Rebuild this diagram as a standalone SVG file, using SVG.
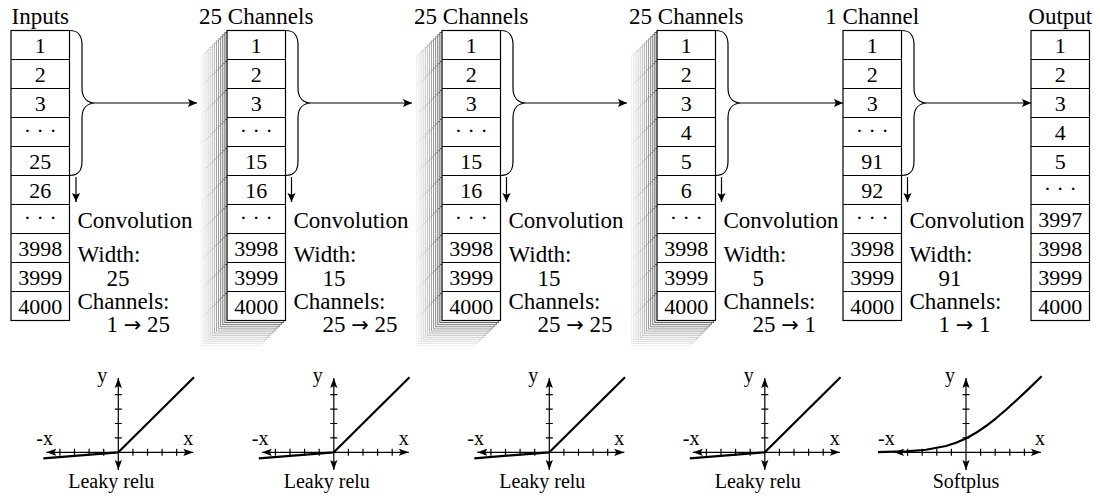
<svg xmlns="http://www.w3.org/2000/svg" width="1100" height="499" viewBox="0 0 1100 499" font-family="'Liberation Serif', 'DejaVu Serif', serif">
<style>
text{font-family:'Liberation Serif','DejaVu Serif',serif;fill:#000}
.h{font-size:23px;text-anchor:middle}
.n{font-size:22px;text-anchor:middle}
.l{font-size:23px}
.ar{font-family:'DejaVu Sans',sans-serif;font-size:21px}
.g{font-size:20px}
.gc{font-size:20px;text-anchor:middle}
.ln{fill:none;stroke:#000;stroke-width:1.2}
.ax{fill:none;stroke:#000;stroke-width:1.2}
.fn{fill:none;stroke:#000;stroke-width:2.2;stroke-linejoin:round}
</style>
<defs>
<marker id="arr" viewBox="0 0 10 10" refX="10" refY="5" markerWidth="9" markerHeight="9" markerUnits="userSpaceOnUse" orient="auto-start-reverse">
<path d="M0,0.5 L10,5 L0,9.5 L2,5 Z" fill="#000"/>
</marker>
<marker id="axa" viewBox="0 0 10 10" refX="10" refY="5" markerWidth="10" markerHeight="8" markerUnits="userSpaceOnUse" orient="auto-start-reverse" preserveAspectRatio="none">
<path d="M0,0.5 L10,5 L0,9.5 L2,5 Z" fill="#000"/>
</marker>
<g id="grid">
<rect x="0" y="0" width="58.5" height="290" fill="#fff"/>
<path d="M0,29h58.5M0,58h58.5M0,87h58.5M0,116h58.5M0,145h58.5M0,174h58.5M0,203h58.5M0,232h58.5M0,261h58.5" fill="none"/>
</g>
<g id="stack" stroke-width="0.9">
<use href="#grid" x="-25.2" y="25.2" stroke="#ececec"/>
<use href="#grid" x="-23.1" y="23.1" stroke="#e2e2e2"/>
<use href="#grid" x="-21" y="21" stroke="#d8d8d8"/>
<use href="#grid" x="-18.9" y="18.9" stroke="#cdcdcd"/>
<use href="#grid" x="-16.8" y="16.8" stroke="#c2c2c2"/>
<use href="#grid" x="-14.7" y="14.7" stroke="#b6b6b6"/>
<use href="#grid" x="-12.6" y="12.6" stroke="#aaaaaa"/>
<use href="#grid" x="-10.5" y="10.5" stroke="#9c9c9c"/>
<use href="#grid" x="-8.4" y="8.4" stroke="#8c8c8c"/>
<use href="#grid" x="-6.3" y="6.3" stroke="#7a7a7a"/>
<use href="#grid" x="-4.2" y="4.2" stroke="#666666"/>
<use href="#grid" x="-2.1" y="2.1" stroke="#4a4a4a"/>
</g>
<g id="axes">
<path class="ax" d="M-72,0 L75,0" marker-start="url(#axa)" marker-end="url(#axa)"/>
<path class="ax" d="M0,17.7 L0,-74.3" marker-start="url(#axa)" marker-end="url(#axa)"/>
<path class="ax" d="M-58.4,-3.5v7M-43.8,-3.5v7M-29.2,-3.5v7M-14.6,-3.5v7M14.6,-3.5v7M29.2,-3.5v7M43.8,-3.5v7M58.4,-3.5v7M-3.5,-14.4h7M-3.5,-28.8h7M-3.5,-43.2h7M-3.5,-57.6h7"/>
</g>
</defs>

<g id="inputs">
<text class="h" x="40.25" y="23.5">Inputs</text>
<use href="#grid" x="11" y="30.5" stroke="#000" stroke-width="1.2"/>
<text class="n" x="40.25" y="53">1</text>
<text class="n" x="40.25" y="82">2</text>
<text class="n" x="40.25" y="111">3</text>
<text class="n" x="40.25" y="138">· · ·</text>
<text class="n" x="40.25" y="169">25</text>
<text class="n" x="40.25" y="198">26</text>
<text class="n" x="40.25" y="225">· · ·</text>
<text class="n" x="40.25" y="256">3998</text>
<text class="n" x="40.25" y="285">3999</text>
<text class="n" x="40.25" y="314">4000</text>
</g>

<g id="layer1">
<text class="h" x="256.25" y="23.5">25 Channels</text>
<use href="#stack" x="227" y="30.5"/>
<use href="#grid" x="227" y="30.5" stroke="#000" stroke-width="1.2"/>
<text class="n" x="256.25" y="53">1</text>
<text class="n" x="256.25" y="82">2</text>
<text class="n" x="256.25" y="111">3</text>
<text class="n" x="256.25" y="138">· · ·</text>
<text class="n" x="256.25" y="169">15</text>
<text class="n" x="256.25" y="198">16</text>
<text class="n" x="256.25" y="225">· · ·</text>
<text class="n" x="256.25" y="256">3998</text>
<text class="n" x="256.25" y="285">3999</text>
<text class="n" x="256.25" y="314">4000</text>
</g>

<g id="layer2">
<text class="h" x="471.25" y="23.5">25 Channels</text>
<use href="#stack" x="442" y="30.5"/>
<use href="#grid" x="442" y="30.5" stroke="#000" stroke-width="1.2"/>
<text class="n" x="471.25" y="53">1</text>
<text class="n" x="471.25" y="82">2</text>
<text class="n" x="471.25" y="111">3</text>
<text class="n" x="471.25" y="138">· · ·</text>
<text class="n" x="471.25" y="169">15</text>
<text class="n" x="471.25" y="198">16</text>
<text class="n" x="471.25" y="225">· · ·</text>
<text class="n" x="471.25" y="256">3998</text>
<text class="n" x="471.25" y="285">3999</text>
<text class="n" x="471.25" y="314">4000</text>
</g>

<g id="layer3">
<text class="h" x="686.25" y="23.5">25 Channels</text>
<use href="#stack" x="657" y="30.5"/>
<use href="#grid" x="657" y="30.5" stroke="#000" stroke-width="1.2"/>
<text class="n" x="686.25" y="53">1</text>
<text class="n" x="686.25" y="82">2</text>
<text class="n" x="686.25" y="111">3</text>
<text class="n" x="686.25" y="140">4</text>
<text class="n" x="686.25" y="169">5</text>
<text class="n" x="686.25" y="198">6</text>
<text class="n" x="686.25" y="225">· · ·</text>
<text class="n" x="686.25" y="256">3998</text>
<text class="n" x="686.25" y="285">3999</text>
<text class="n" x="686.25" y="314">4000</text>
</g>

<g id="layer4">
<text class="h" x="872.25" y="23.5">1 Channel</text>
<use href="#grid" x="843" y="30.5" stroke="#000" stroke-width="1.2"/>
<text class="n" x="872.25" y="53">1</text>
<text class="n" x="872.25" y="82">2</text>
<text class="n" x="872.25" y="111">3</text>
<text class="n" x="872.25" y="138">· · ·</text>
<text class="n" x="872.25" y="169">91</text>
<text class="n" x="872.25" y="198">92</text>
<text class="n" x="872.25" y="225">· · ·</text>
<text class="n" x="872.25" y="256">3998</text>
<text class="n" x="872.25" y="285">3999</text>
<text class="n" x="872.25" y="314">4000</text>
</g>

<g id="output">
<text class="h" x="1060.25" y="23.5">Output</text>
<use href="#grid" x="1031" y="30.5" stroke="#000" stroke-width="1.2"/>
<text class="n" x="1060.25" y="53">1</text>
<text class="n" x="1060.25" y="82">2</text>
<text class="n" x="1060.25" y="111">3</text>
<text class="n" x="1060.25" y="140">4</text>
<text class="n" x="1060.25" y="169">5</text>
<text class="n" x="1060.25" y="196">· · ·</text>
<text class="n" x="1060.25" y="227">3997</text>
<text class="n" x="1060.25" y="256">3998</text>
<text class="n" x="1060.25" y="285">3999</text>
<text class="n" x="1060.25" y="314">4000</text>
</g>

<g id="conv1">
<text class="l" x="77.5" y="227.5">Convolution</text>
<text class="l" x="77.5" y="262">Width:</text>
<text class="l" x="106.5" y="285.5">25</text>
<text class="l" x="77.5" y="308.5">Channels:</text>
<text class="l" x="106.5" y="332">1 <tspan class="ar">→</tspan> 25</text>
</g>
<g id="conv2">
<text class="l" x="293.5" y="227.5">Convolution</text>
<text class="l" x="293.5" y="262">Width:</text>
<text class="l" x="322.5" y="285.5">15</text>
<text class="l" x="293.5" y="308.5">Channels:</text>
<text class="l" x="322.5" y="332">25 <tspan class="ar">→</tspan> 25</text>
</g>
<g id="conv3">
<text class="l" x="508.5" y="227.5">Convolution</text>
<text class="l" x="508.5" y="262">Width:</text>
<text class="l" x="537.5" y="285.5">15</text>
<text class="l" x="508.5" y="308.5">Channels:</text>
<text class="l" x="537.5" y="332">25 <tspan class="ar">→</tspan> 25</text>
</g>
<g id="conv4">
<text class="l" x="723.5" y="227.5">Convolution</text>
<text class="l" x="723.5" y="262">Width:</text>
<text class="l" x="752.5" y="285.5">5</text>
<text class="l" x="723.5" y="308.5">Channels:</text>
<text class="l" x="752.5" y="332">25 <tspan class="ar">→</tspan> 1</text>
</g>
<g id="conv5">
<text class="l" x="909.5" y="227.5">Convolution</text>
<text class="l" x="909.5" y="262">Width:</text>
<text class="l" x="938.5" y="285.5">91</text>
<text class="l" x="909.5" y="308.5">Channels:</text>
<text class="l" x="938.5" y="332">1 <tspan class="ar">→</tspan> 1</text>
</g>

<g id="connectors">
<path class="ln" d="M69.5,30.5 C78.5,30.5 82,35 82,45 L82,88 C82,98 87.5,103 95.5,103 C87.5,103 82,108 82,118 L82,161 C82,171 78.5,175.5 69.5,175.5"/>
<path class="ln" d="M285.5,30.5 C294.5,30.5 298,35 298,45 L298,88 C298,98 303.5,103 311.5,103 C303.5,103 298,108 298,118 L298,161 C298,171 294.5,175.5 285.5,175.5"/>
<path class="ln" d="M500.5,30.5 C509.5,30.5 513,35 513,45 L513,88 C513,98 518.5,103 526.5,103 C518.5,103 513,108 513,118 L513,161 C513,171 509.5,175.5 500.5,175.5"/>
<path class="ln" d="M715.5,30.5 C724.5,30.5 728,35 728,45 L728,88 C728,98 733.5,103 741.5,103 C733.5,103 728,108 728,118 L728,161 C728,171 724.5,175.5 715.5,175.5"/>
<path class="ln" d="M901.5,30.5 C910.5,30.5 914,35 914,45 L914,88 C914,98 919.5,103 927.5,103 C919.5,103 914,108 914,118 L914,161 C914,171 910.5,175.5 901.5,175.5"/>
<path class="ln" d="M95.5,103 L197,103" marker-end="url(#arr)"/>
<path class="ln" d="M311.5,103 L412,103" marker-end="url(#arr)"/>
<path class="ln" d="M526.5,103 L627,103" marker-end="url(#arr)"/>
<path class="ln" d="M741.5,103 L843,103" marker-end="url(#arr)"/>
<path class="ln" d="M927.5,103 L1031,103" marker-end="url(#arr)"/>
<path class="ln" d="M76,177 L76,202" marker-end="url(#arr)"/>
<path class="ln" d="M291.5,177 L291.5,202" marker-end="url(#arr)"/>
<path class="ln" d="M506.5,177 L506.5,202" marker-end="url(#arr)"/>
<path class="ln" d="M721.5,177 L721.5,202" marker-end="url(#arr)"/>
<path class="ln" d="M907.5,177 L907.5,202" marker-end="url(#arr)"/>
</g>

<g id="graph1" transform="translate(118.3,452.3)">
<use href="#axes"/>
<path class="fn" d="M-75,6 L0,0 L75.7,-75"/>
<text class="g" x="-11" y="-70" text-anchor="end">y</text>
<text class="g" x="-82" y="-7.5">-x</text>
<text class="g" x="65" y="-7.5">x</text>
<text class="gc" x="-7" y="36">Leaky relu</text>
</g>
<g id="graph2" transform="translate(333.8,452.3)">
<use href="#axes"/>
<path class="fn" d="M-75,6 L0,0 L75.7,-75"/>
<text class="g" x="-11" y="-70" text-anchor="end">y</text>
<text class="g" x="-82" y="-7.5">-x</text>
<text class="g" x="65" y="-7.5">x</text>
<text class="gc" x="-7" y="36">Leaky relu</text>
</g>
<g id="graph3" transform="translate(549.3,452.3)">
<use href="#axes"/>
<path class="fn" d="M-75,6 L0,0 L75.7,-75"/>
<text class="g" x="-11" y="-70" text-anchor="end">y</text>
<text class="g" x="-82" y="-7.5">-x</text>
<text class="g" x="65" y="-7.5">x</text>
<text class="gc" x="-7" y="36">Leaky relu</text>
</g>
<g id="graph4" transform="translate(764.8,452.3)">
<use href="#axes"/>
<path class="fn" d="M-75,6 L0,0 L75.7,-75"/>
<text class="g" x="-11" y="-70" text-anchor="end">y</text>
<text class="g" x="-82" y="-7.5">-x</text>
<text class="g" x="65" y="-7.5">x</text>
<text class="gc" x="-7" y="36">Leaky relu</text>
</g>
<g id="graph5" transform="translate(966,452.3)">
<use href="#axes"/>
<path class="fn" d="M-88,-0.24 L-80,-0.36 L-60,-0.97 L-40,-2.54 L-20,-6.27 L-10,-9.48 L0,-13.86 L10,-19.48 L20,-26.27 L30,-34.03 L40,-42.54 L50,-51.58 L60,-60.97 L70,-70.59 L75.6,-76.05"/>
<text class="g" x="-11" y="-70" text-anchor="end">y</text>
<text class="g" x="-88" y="-7.5">-x</text>
<text class="g" x="69" y="-7.5">x</text>
<text class="gc" x="0" y="36">Softplus</text>
</g>
</svg>
